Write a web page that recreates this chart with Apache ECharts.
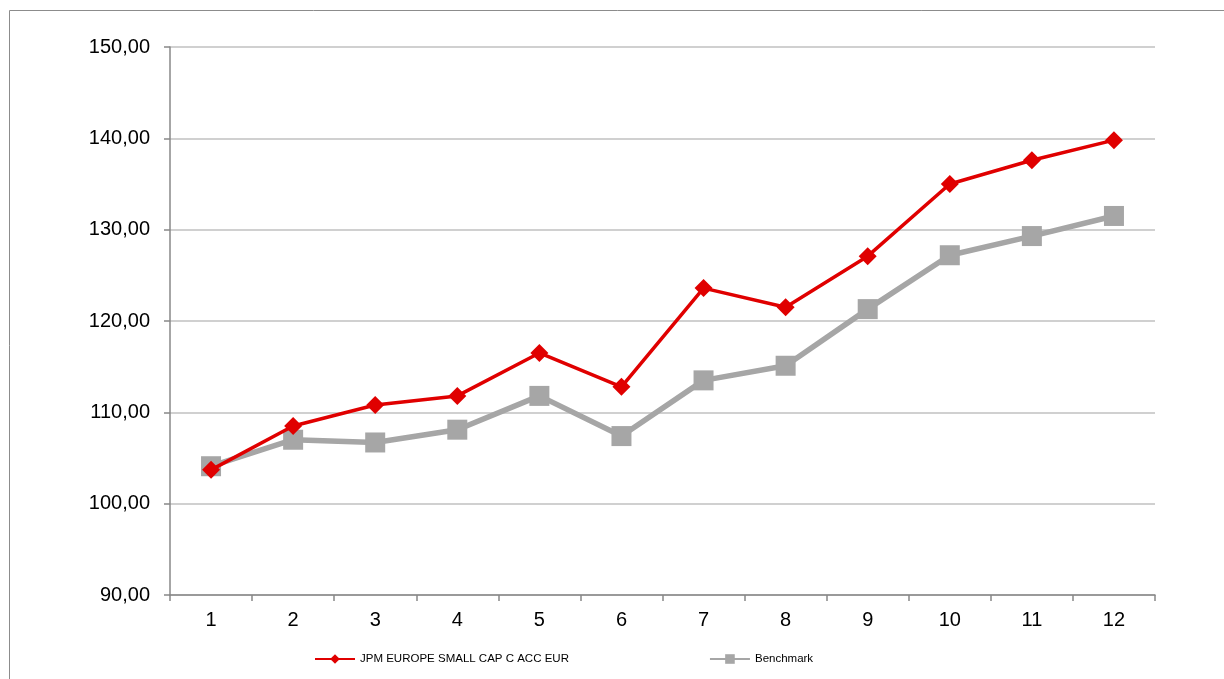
<!DOCTYPE html>
<html><head><meta charset="utf-8">
<script src="https://cdn.jsdelivr.net/npm/echarts@6/dist/echarts.min.js"></script>
<style>html,body{margin:0;padding:0;background:#fff}#c{width:1224px;height:679px}</style>
</head><body><div id="c"></div>
<script>
const categories = ['1','2','3','4','5','6','7','8','9','10','11','12'];
const fundName = 'JPM EUROPE SMALL CAP C ACC EUR';
const fundValues = [103.7, 108.5, 110.8, 111.8, 116.5, 112.8, 123.6, 121.5, 127.1, 135.0, 137.6, 139.8];
const benchName = 'Benchmark';
const benchValues = [104.1, 107.0, 106.7, 108.1, 111.8, 107.4, 113.5, 115.1, 121.3, 127.2, 129.3, 131.5];

const chart = echarts.init(document.getElementById('c'), null, {renderer: 'canvas'});
chart.setOption({
  animation: false,
  textStyle: {fontFamily: 'Liberation Sans, Arial, sans-serif'},
  graphic: [{type: 'rect', shape: {x: 9.5, y: 10.5, width: 1230, height: 700}, style: {fill: 'none', stroke: '#8c8c8c', lineWidth: 1}}],
  grid: {left: 170, right: 69, top: 47, bottom: 84, containLabel: false},
  legend: {
    left: 309, top: 648, itemWidth: 40, itemHeight: 12, itemGap: 140,
    textStyle: {fontSize: 11.5, color: '#000', fontFamily: 'Liberation Sans, Arial, sans-serif'},
    data: [fundName, benchName]
  },
  xAxis: {
    type: 'category', data: categories, boundaryGap: true,
    axisLine: {lineStyle: {color: '#888', width: 1.5}},
    axisTick: {show: true, length: 6, inside: false, lineStyle: {color: '#888', width: 1.5}},
    axisLabel: {fontSize: 20, color: '#000', margin: 15},
    splitLine: {show: false}
  },
  yAxis: {
    type: 'value', min: 90, max: 150, interval: 10,
    axisLine: {show: true, lineStyle: {color: '#888', width: 1.5}},
    axisTick: {show: true, length: 6, lineStyle: {color: '#888', width: 1.5}},
    axisLabel: {fontSize: 20, color: '#000', margin: 20, formatter: v => v.toFixed(2).replace('.', ',')},
    splitLine: {show: true, lineStyle: {color: '#c0c0c0', width: 1.5}}
  },
  series: [
    {name: fundName, type: 'line', data: fundValues, symbol: 'diamond', symbolSize: 18,
     lineStyle: {color: '#e00000', width: 3.5}, itemStyle: {color: '#e00000'}, z: 3},
    {name: benchName, type: 'line', data: benchValues, symbol: 'rect', symbolSize: 20,
     lineStyle: {color: '#a6a6a6', width: 5.5}, itemStyle: {color: '#a6a6a6'}, z: 2}
  ]
});
</script></body></html>
